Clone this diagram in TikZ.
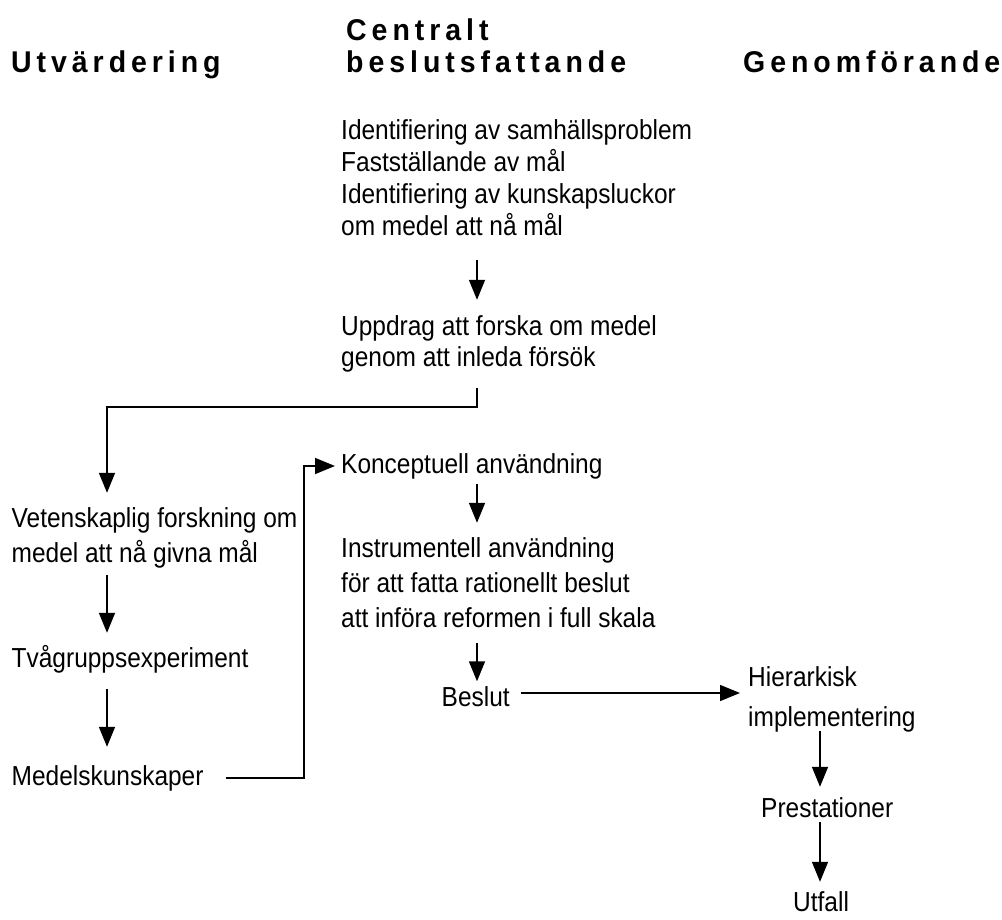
\documentclass[tikz,border=0pt]{standalone}
\usepackage{fontspec}
\setmainfont{Liberation Sans}[FakeStretch=0.89]
\newfontfamily\hdrfont{Liberation Sans}[FakeStretch=0.95,LetterSpace=16.5]
\usetikzlibrary{arrows.meta}
\newcommand{\lns}[1]{\begin{tabular}[t]{@{}l@{}}#1\end{tabular}}
\begin{document}
\begin{tikzpicture}[x=1pt,y=-1pt,
  txt/.style={inner sep=0pt, anchor=base west, font=\fontsize{27.5}{35}\selectfont},
  tight/.style={font=\fontsize{27.5}{32}\selectfont},
  loose/.style={font=\fontsize{27.5}{40}\selectfont},
  hdr/.style={inner sep=0pt, anchor=base west, font=\hdrfont\bfseries\fontsize{30}{32}\selectfont},
  arr/.style={line width=1.6pt, -{Triangle[length=20pt,width=16pt]}}]
\fill[white] (0,0) rectangle (1002,920);
\useasboundingbox (0,0) rectangle (1002,920);

\coordinate (cx) at (477,0);
\coordinate (lx) at (107,0);
\coordinate (rx) at (820,0);
\coordinate (bx) at (304,0);

\node[hdr] (h1) at (11,73) {Utvärdering};
\node[hdr] (h2) at (346,41) {\lns{Centralt\\beslutsfattande}};
\node[hdr] (h3) at (743,73) {Genomförande};

\node[txt,tight] (top) at (341,140) {\lns{Identifiering av samhällsproblem\\Fastställande av mål\\Identifiering av kunskapsluckor\\om medel att nå mål}};
\node[txt,tight] (upp) at (341,335) {\lns{Uppdrag att forska om medel\\genom att inleda försök}};
\node[txt] (vet) at (11.5,527) {\lns{Vetenskaplig forskning om\\medel att nå givna mål}};
\node[txt] (tva) at (11.5,667) {\lns{Tvågruppsexperiment}};
\node[txt] (med) at (11.5,785) {\lns{Medelskunskaper}};
\node[txt] (kon) at (341,473) {\lns{Konceptuell användning}};
\node[txt] (ins) at (341,557) {\lns{Instrumentell användning\\för att fatta rationellt beslut\\att införa reformen i full skala}};
\node[txt] (bes) at (441.5,706) {\lns{Beslut}};
\node[txt,loose] (hie) at (748,686) {\lns{Hierarkisk\\implementering}};
\node[txt] (pre) at (761,817) {\lns{Prestationer}};
\node[txt] (utf) at (793,911) {\lns{Utfall}};

\coordinate (bl) at ([yshift=6pt]bes.east);

\draw[arr, shorten <=14.4pt, shorten >=12.6pt] (top.south -| cx) -- (upp.north -| cx);
\draw[arr, shorten <=11.4pt, shorten >=9.5pt] (upp.south -| cx) -- ++(0,30.4) -| (vet.north -| lx);
\draw[arr, shorten <=2.5pt, shorten >=9.5pt] (vet.south -| lx) -- (tva.north -| lx);
\draw[arr, shorten <=11.5pt, shorten >=13.5pt] (tva.south -| lx) -- (med.north -| lx);
\draw[arr, shorten <=22pt, shorten >=6pt] (med.east) -| (bx |- kon.west) -- (kon.west);
\draw[arr, shorten <=0.5pt, shorten >=9.5pt] (kon.south -| cx) -- (ins.north -| cx);
\draw[arr, shorten <=5.5pt, shorten >=0pt] (ins.south -| cx) -- (bes.north -| cx);
\draw[arr, shorten <=11pt, shorten >=8pt] (bl) -- (hie.west |- bl);
\draw[arr, shorten <=-7pt, shorten >=5.5pt] (hie.south -| rx) -- (pre.north -| rx);
\draw[arr, shorten <=-5.5pt, shorten >=4.5pt] (pre.south -| rx) -- (utf.north -| rx);
\end{tikzpicture}
\end{document}
